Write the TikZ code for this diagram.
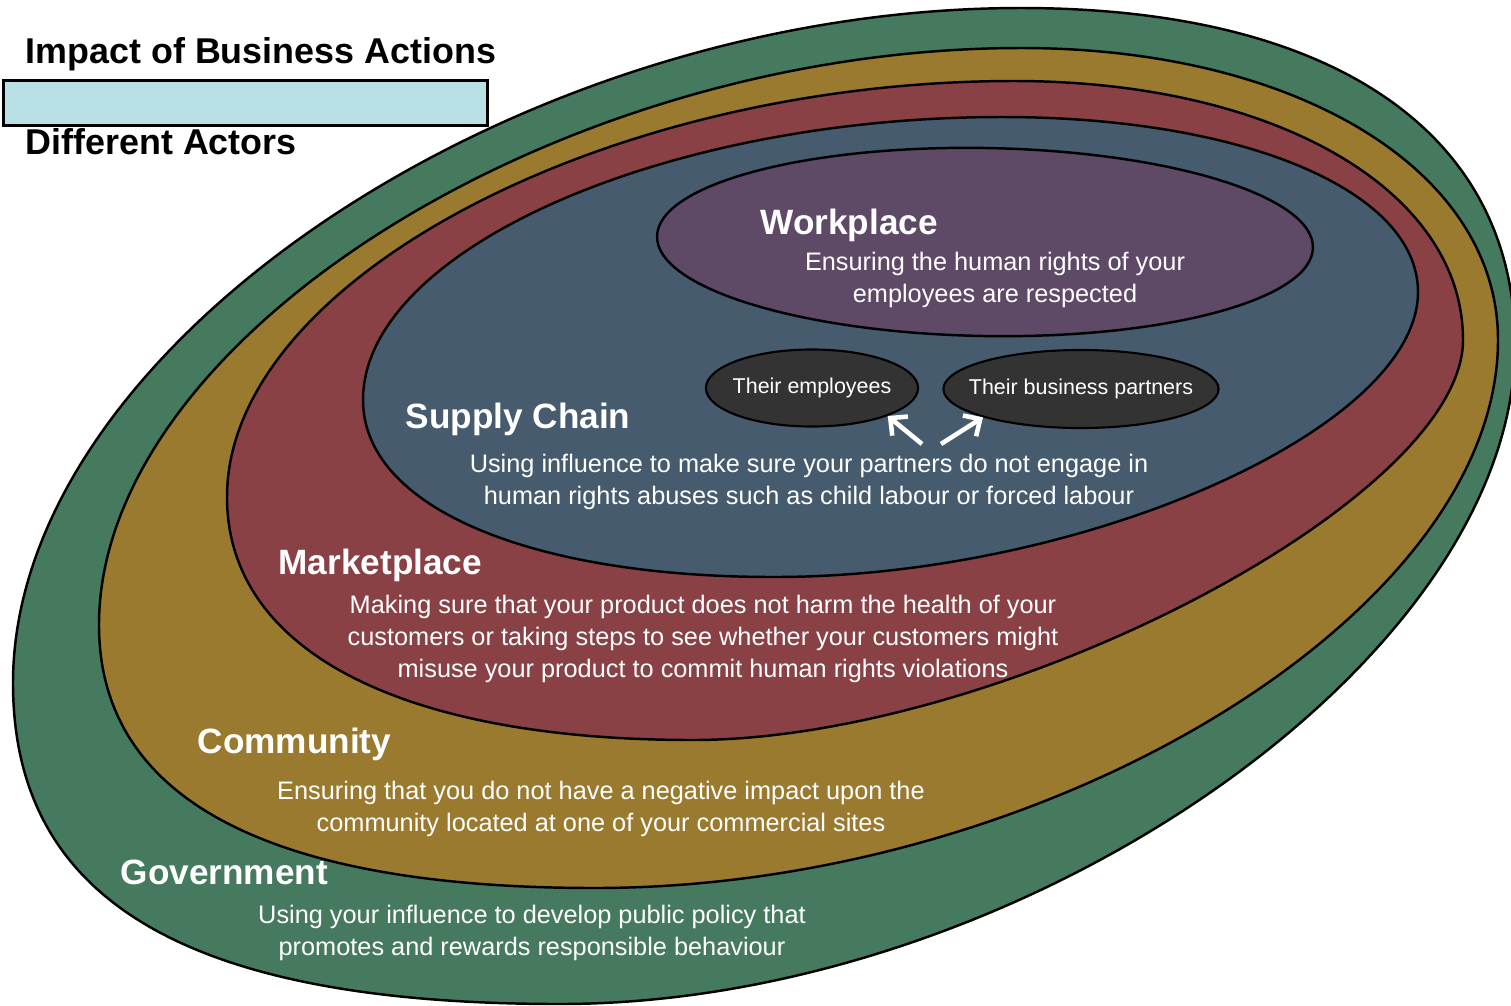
\documentclass[tikz,border=0pt]{standalone}
\usepackage{fontspec}
\setmainfont{Liberation Sans}
\usetikzlibrary{shapes.geometric,arrows.meta}
\definecolor{cGreen}{HTML}{467A5E}
\definecolor{cOchre}{HTML}{9A7A2E}
\definecolor{cRed}{HTML}{8A4145}
\definecolor{cBlue}{HTML}{465B6D}
\definecolor{cPurple}{HTML}{5E4A66}
\definecolor{cDark}{HTML}{333333}
\definecolor{cLegend}{HTML}{B9E0E4}
\def\kA{0.58}\def\kB{0.48}\def\kC{0.58}\def\kD{0.55}
% egg-shaped closed path through top, right, bottom, left extreme points
\newcommand\eggpath[8]{(#1,#2) .. controls +({\kA*(#3-#1)},0) and +(0,{-\kA*(#4-#2)}) .. (#3,#4)
 .. controls +(0,{\kB*(#6-#4)}) and +({\kB*(#3-#5)},0) .. (#5,#6)
 .. controls +({-\kC*(#5-#7)},0) and +(0,{\kC*(#6-#8)}) .. (#7,#8)
 .. controls +(0,{-\kD*(#8-#2)}) and +({-\kD*(#1-#7)},0) .. (#1,#2) -- cycle}
\tikzset{
  ring/.style={draw=black, line width=0.7pt},
  title/.style={font=\fontsize{10.2}{12}\selectfont\bfseries, anchor=base west, inner sep=0pt, text=black},
  heading/.style={font=\fontsize{10}{12}\selectfont\bfseries, anchor=base west, inner sep=0pt, text=white},
  body/.style={font=\fontsize{7.2}{9.1}\selectfont, align=center, inner sep=0pt, text=white},
  actor/.style={ellipse, draw=black, line width=0.6pt, fill=cDark, inner sep=0pt},
  actortext/.style={text=white, inner sep=0pt, font=\fontsize{6.1}{7}\selectfont},
  warrow/.style={draw=white, line width=1.3pt, -{Straight Barb[length=3.6pt,width=7pt]}}
}
\begin{document}
\begin{tikzpicture}[x=0.01cm, y=-0.01cm]
\useasboundingbox (0,0) rectangle (1511,1005);
\clip (0,0) rectangle (1511,1005);
\fill[white] (0,0) rectangle (1511,1005);

% Government (outer)
\def\kA{0.63}\def\kB{0.48}\def\kC{0.68}\def\kD{0.5}
\filldraw[ring, fill=cGreen] \eggpath{1021}{8}{1515}{345}{560}{1004}{13}{683};
% Community
\def\kA{0.58}\def\kB{0.5}\def\kC{0.66}\def\kD{0.5}
\filldraw[ring, fill=cOchre] \eggpath{1021}{48}{1498}{340}{595}{888}{99}{625};
% Marketplace
\def\kA{0.58}\def\kB{0.4}\def\kC{0.63}\def\kD{0.52}
\filldraw[ring, fill=cRed] \eggpath{1014}{81}{1463}{340}{693}{740}{227}{497};
% Supply chain
\def\kA{0.58}\def\kB{0.48}\def\kC{0.6}\def\kD{0.53}
\filldraw[ring, fill=cBlue] \eggpath{1002}{117}{1418}{292}{774}{577}{363}{400};
% Workplace
\filldraw[ring, fill=cPurple, rotate around={-1:(985,242)}] (985,242) ellipse [x radius=328, y radius=94];

% legend
\node[title] (t1) at (25,63) {Impact of Business Actions};
\node[draw=black, line width=0.8pt, fill=cLegend, anchor=north west, minimum width=4.84cm, minimum height=0.45cm, inner sep=0pt] (legend) at (2,79) {};
\node[title] (t2) at (25,154) {Different Actors};

% headings
\node[heading] (hw) at (760,234) {Workplace};
\node[heading] (hs) at (405,428) {Supply Chain};
\node[heading] (hm) at (278,574) {Marketplace};
\node[heading] (hc) at (197,753) {Community};
\node[heading] (hg) at (120,884) {Government};

% bodies
\node[body] (bw) at (995,280) {Ensuring the human rights of your\\employees are respected};
\node[body] (bs) at (809,482) {Using influence to make sure your partners do not engage in\\human rights abuses such as child labour or forced labour};
\node[body] (bm) at (703,639) {Making sure that your product does not harm the health of your\\customers or taking steps to see whether your customers might\\misuse your product to commit human rights violations};
\node[body] (bc) at (601,809) {Ensuring that you do not have a negative impact upon the\\community located at one of your commercial sites};
\node[body] (bg) at (532,933) {Using your influence to develop public policy that\\promotes and rewards responsible behaviour};

% actors
\node[actor, minimum width=2.12cm, minimum height=0.77cm] (emp) at (812,388) {};
\node[actortext] (empt) at (emp.center) {Their employees};
\node[actor, minimum width=2.75cm, minimum height=0.78cm] (part) at (1081,389) {};
\node[actortext] (partt) at (part.center) {Their business partners};
\coordinate (s1) at (922,444);
\coordinate (s2) at (941,444);
\draw[warrow] (s1) -- (emp.south east);
\draw[warrow] (s2) -- (part.south west);
\end{tikzpicture}
\end{document}
